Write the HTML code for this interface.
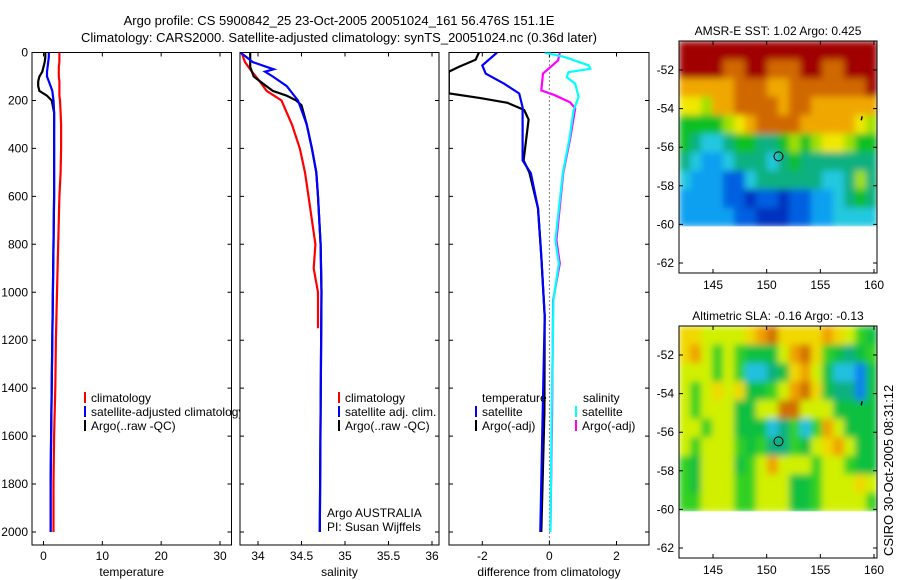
<!DOCTYPE html>
<html><head><meta charset="utf-8"><style>
body{margin:0;background:#fff;}
svg{display:block;font-family:"Liberation Sans",sans-serif;}
text{font-size:12px;fill:#000;}
</style></head><body>
<svg id="fig" width="900" height="580" viewBox="0 0 900 580" xmlns="http://www.w3.org/2000/svg">
<defs>
<filter id="blur" x="0" y="0" width="1" height="1"><feGaussianBlur stdDeviation="3.5" edgeMode="duplicate"/></filter>
</defs>
<text x="339" y="25" text-anchor="middle" style="font-size:13px">Argo profile: CS 5900842_25 23-Oct-2005 20051024_161 56.476S 151.1E</text>
<text x="339" y="42" text-anchor="middle" style="font-size:13px">Climatology: CARS2000. Satellite-adjusted climatology: synTS_20051024.nc (0.36d later)</text>
<g id="g"></g>
<text transform="translate(893,556) rotate(-90)" style="font-size:13px">CSIRO 30-Oct-2005 08:31:12</text>
</svg>
<script>
// ---- data ----
const depths = [0,20,40,60,80,100,120,140,160,180,200,250,300,400,500,600,800,1000,1200,1400,1600,1800,2000];
const tempClim = [2.7,2.7,2.7,2.6,2.6,2.6,2.7,2.7,2.7,2.7,2.8,2.9,3.0,3.0,2.9,2.7,2.5,2.3,2.1,2.0,1.8,1.7,1.7];
const tempSat  = [0.9,0.9,0.8,0.7,0.6,0.6,0.9,1.2,1.5,1.6,1.7,1.8,1.8,1.8,1.8,1.8,1.7,1.6,1.5,1.4,1.3,1.2,1.2];
const tempArgo = [0.3,0.3,0.2,0.0,-0.2,-0.7,-0.9,-0.9,-0.7,0.6,1.4,1.8,1.8,1.8,1.8,1.8,1.7,1.6,1.5,1.4,1.3,1.2,1.2];
const salDepthsClim = [0,40,80,120,160,200,300,400,500,600,800,900,1000,1150];
const salClim = [33.81,33.85,33.93,34.02,34.10,34.27,34.39,34.48,34.54,34.58,34.66,34.64,34.69,34.69];
const salDepthsSat = [0,40,60,70,80,100,140,200,300,400,500,600,800,1000,1500,2000];
const salSat = [33.80,33.94,34.10,34.18,34.08,34.17,34.33,34.46,34.56,34.62,34.67,34.69,34.72,34.73,34.72,34.71];
const salDepthsArgo = [0,60,100,130,160,180,200,220,300,400,500,600,800,1000,1500,2000];
const salArgo = [33.91,33.91,33.95,34.06,34.17,34.33,34.44,34.50,34.56,34.62,34.67,34.69,34.72,34.73,34.72,34.71];
const diffDepthsT = [0,30,60,80,100,170,190,210,240,280,450,500,650,850,1100,1500,2000];
const dTempArgo = [-2.1,-2.2,-2.7,-3.0,-3.0,-3.0,-2.06,-1.25,-0.75,-0.62,-0.77,-0.6,-0.34,-0.24,-0.14,-0.15,-0.24];
const diffDepthsTS = [0,54,88,130,171,228,450,504,650,850,1100,1500,2000];
const dTempSat = [-1.56,-2.0,-1.9,-1.35,-0.9,-0.8,-0.8,-0.55,-0.34,-0.24,-0.14,-0.2,-0.27];
const diffDepthsS = [0,33,88,158,178,208,233,358,504,783,880,1033,1500,2000];
const dSalArgo = [0.31,0.26,-0.19,-0.24,0.16,0.62,0.77,0.62,0.41,0.21,0.31,0.11,0.08,0.03];
const diffDepthsSS = [0,19,54,68,82,103,130,185,241,358,504,783,880,1033,1500,2000];
const dSalSat = [-0.14,0.46,1.17,1.22,0.57,0.52,0.77,0.87,0.72,0.6,0.4,0.18,0.28,0.12,0.07,0.03];
const depthTicks = [0,200,400,600,800,1000,1200,1400,1600,1800,2000];
const tempTicks = [0,10,20,30];
const salTicks = [34,34.5,35,35.5,36];
const diffTicks = [-2,0,2];
const latTicks = [-52,-54,-56,-58,-60,-62];
const lonTicks = [145,150,155,160];
const sstGrid = [
[10,10,10,10,10,10,10,10,10,10,10,10,10,10,10,10,10,10],
[10,10,10,10,9,9,10,10,9,9,9,10,10,9,9,10,10,10],
[8,8,8,8,8,9,9,9,8,8,9,9,9,9,9,9,9,10],
[7,7,6,8,8,9,9,9,9,8,9,9,8,8,8,8,8,8],
[5,5,5,5,6,7,8,9,9,9,9,8,8,8,8,8,7,6],
[5,4,3,3,4,5,5,4,4,5,6,5,6,7,7,6,5,5],
[4,3,2,2,3,4,4,4,3,4,5,4,4,4,4,4,4,4],
[3,2,2,2,1,1,3,4,4,4,4,4,4,3,3,4,6,4],
[2,2,2,2,1,1,0,1,1,0,1,1,2,2,3,4,5,4],
[2,2,2,2,2,1,1,0,0,0,1,1,2,2,3,3,3,3]];
const slaGrid = [
[7,7,6,6,6,6,7,8,9,7,7,7,7,8,7,6,5,4],
[7,8,6,5,6,5,4,4,4,6,8,9,7,5,4,3,4,5],
[6,6,6,5,6,5,2,2,3,4,7,8,6,4,2,2,1,4],
[6,5,6,7,6,7,4,4,5,6,8,9,7,4,3,3,1,4],
[6,5,6,6,6,4,4,6,6,9,9,6,6,6,4,4,4,4],
[6,6,5,6,6,4,4,4,2,3,5,2,5,8,6,4,4,4],
[6,5,6,6,6,5,4,5,3,3,5,4,6,7,8,6,4,4],
[5,4,6,6,6,4,5,6,8,6,6,6,5,6,6,5,4,4],
[5,4,6,6,6,5,5,6,6,6,4,4,5,6,6,6,7,6],
[5,5,6,6,6,5,5,6,6,6,4,4,5,6,6,6,6,5]];
const argoLon = 151.1, argoLat = -56.476;
const palette = ["#0030c0","#0060e0","#10a0f0","#20c8e0","#10b080","#10c020","#a0e000","#f0e800","#f0a800","#d06800","#a00000"];
const slaPalette = ["#0040d0","#1080f0","#20c0e0","#10b080","#10c040","#30d020","#d0f000","#f0d800","#f0a000","#d07000","#a03000"];

// ---- helpers ----
const NS="http://www.w3.org/2000/svg";
const G=document.getElementById('g');
function mk(tag,attrs,parent){const e=document.createElementNS(NS,tag);for(const k in attrs)e.setAttribute(k,attrs[k]);(parent||G).appendChild(e);return e;}
function lin(d0,d1,r0,r1){return v=>r0+(v-d0)*(r1-r0)/(d1-d0);}
const yD = lin(0,2000,52.5,532);
const PB = 545;

function panel(name,x0,x1,xs,ticks,labelText,showY){
  const r=mk('rect',{x:x0,y:52.5,width:x1-x0,height:PB-52.5,fill:'#fff',stroke:'#000','stroke-width':1});
  
  
  for(const d of depthTicks){
    const y=yD(d);
    const t=mk('path',{d:`M${x0},${y}h4M${x1},${y}h-4`,stroke:'#000','stroke-width':1});
    
    
    if(showY){
      const l=mk('text',{x:28,y:y+4,'text-anchor':'end'});l.textContent=d;
      
      
    }
  }
  for(const v of ticks){
    const x=xs(v);
    const t=mk('path',{d:`M${x},${PB}v-4M${x},52.5v4`,stroke:'#000','stroke-width':1});
    
    
    const l=mk('text',{x:x,y:560,'text-anchor':'middle'});l.textContent=v;
    
    
  }
  const xl=mk('text',{x:(x0+x1)/2,y:576,'text-anchor':'middle'});xl.textContent=labelText;
  
  
}
function line(name,xs,vals,ds,color,clipId){
  const pts=vals.map((v,i)=>xs(v).toFixed(1)+','+yD(ds[i]).toFixed(1)).join(' ');
  const p=mk('polyline',{points:pts,fill:'none',stroke:color,'stroke-width':2.2,'clip-path':`url(#${clipId})`});
  
  
}
function clip(id,x0,x1){const c=mk('clipPath',{id:id});mk('rect',{x:x0,y:52.5,width:x1-x0,height:PB-52.5},c);}
function legend(name,x,y,color,label){
  const m=mk('rect',{x:x,y:y-10,width:2,height:11,fill:color});
  
  
  const t=mk('text',{x:x+7,y:y});t.textContent=label;
  
  
}

// Panel 1: temperature
const xT=lin(0,30,43.5,220);
panel('temperature-panel',32,231.5,xT,tempTicks,'temperature',true);
clip('c1',32,231.5);
line('temp-argo-line',xT,tempArgo,depths,'#000','c1');
line('temp-satellite-line',xT,tempSat,depths,'#00f','c1');
line('temp-climatology-line',xT,tempClim,depths,'#f00','c1');
legend('legend-climatology',84,402,'#f00','climatology');
legend('legend-satellite-adjusted',84,416,'#00f','satellite-adjusted climatology');
legend('legend-argo-raw',84,430,'#000','Argo(..raw -QC)');

// Panel 2: salinity
const xS=lin(34,36,258,432);
panel('salinity-panel',240,439,xS,salTicks,'salinity',false);
clip('c2',240,439);
line('sal-climatology-line',xS,salClim,salDepthsClim,'#f00','c2');
line('sal-argo-line',xS,salArgo,salDepthsArgo,'#000','c2');
line('sal-satellite-line',xS,salSat,salDepthsSat,'#00f','c2');
legend('legend-sal-climatology',338,402,'#f00','climatology');
legend('legend-sal-satellite',338,416,'#00f','satellite adj. clim.');
legend('legend-sal-argo',338,430,'#000','Argo(..raw -QC)');
const a1=mk('text',{x:327,y:517});a1.textContent='Argo AUSTRALIA';


const a2=mk('text',{x:327,y:531});a2.textContent='PI: Susan Wijffels';



// Panel 3: difference
const xDf=lin(-2,2,482.3,616.5);
panel('difference-panel',449,649,xDf,diffTicks,'difference from climatology',false);
clip('c3',449,649);
const zl=mk('line',{x1:xDf(0),x2:xDf(0),y1:52.5,y2:PB,stroke:'#000','stroke-width':1,'stroke-dasharray':'1,3'});


line('diff-temp-argo-line',xDf,dTempArgo,diffDepthsT,'#000','c3');
line('diff-temp-satellite-line',xDf,dTempSat,diffDepthsTS,'#00f','c3');
line('diff-sal-argo-line',xDf,dSalArgo,diffDepthsS,'#f0f','c3');
line('diff-sal-satellite-line',xDf,dSalSat,diffDepthsSS,'#0ff','c3');
const lt=mk('text',{x:482,y:402});lt.textContent='temperature';


const ls=mk('text',{x:583,y:402});ls.textContent='salinity';


legend('legend-diff-temp-satellite',475,416,'#00f','satellite');
legend('legend-diff-temp-argo',475,430,'#000','Argo(-adj)');
legend('legend-diff-sal-satellite',575,416,'#0ff','satellite');
legend('legend-diff-sal-argo',575,430,'#f0f','Argo(-adj)');

// Maps
function map(name,top,grid,pal,title){
  const lonX=lin(141.83,160.28,679,877);
  const latY=lin(-52,-62,top+29,top+222);
  const bottom=top+232;
  const latTop=-50.5, latBot=-60.1;
  const nr=grid.length, nc=grid[0].length;
  const cp=mk('clipPath',{id:name+'-clip'});
  mk('rect',{x:679,y:top,width:198,height:latY(latBot)-top},cp);
  const outer=mk('g',{'clip-path':`url(#${name}-clip)`});
  const cg=mk('g',{filter:'url(#blur)'},outer);
  for(let r=0;r<nr;r++)for(let c=0;c<nc;c++){
    const la0=latTop+(latBot-latTop)*r/nr, la1=latTop+(latBot-latTop)*(r+1)/nr;
    const lo0=141.83+(160.28-141.83)*c/nc, lo1=141.83+(160.28-141.83)*(c+1)/nc;
    const cell=mk('rect',{x:lonX(lo0),y:latY(la0),width:lonX(lo1)-lonX(lo0)+0.6,height:latY(la1)-latY(la0)+0.6,fill:pal[grid[r][c]]},cg);
    
    
  }
  const f=mk('rect',{x:679,y:top,width:198,height:bottom-top,fill:'none',stroke:'#000','stroke-width':1});
  
  
  for(const la of latTicks){
    const y=latY(la);
    const t=mk('path',{d:`M679,${y}h4M877,${y}h-4`,stroke:'#000'});
    
    
    const l=mk('text',{x:674,y:y+4,'text-anchor':'end'});l.textContent=la;
    
    
  }
  for(const lo of lonTicks){
    const x=lonX(lo);
    const t=mk('path',{d:`M${x},${bottom}v-4M${x},${top}v4`,stroke:'#000'});
    
    
    const l=mk('text',{x:x,y:bottom+16,'text-anchor':'middle'});l.textContent=lo;
    
    
  }
  const c=mk('circle',{cx:lonX(argoLon),cy:latY(argoLat),r:4.5,fill:'none',stroke:'#000','stroke-width':1});
  
  
  const m=mk('path',{d:`M${lonX(158.9)},${latY(-54.4)}l-1,4`,stroke:'#000','stroke-width':1.5});
  
  
  const tt=mk('text',{x:778,y:top-6,'text-anchor':'middle'});tt.textContent=title;
  
  
}
map('sst-map',41,sstGrid,palette,'AMSR-E SST: 1.02 Argo: 0.425');
map('sla-map',326,slaGrid,slaPalette,'Altimetric SLA: -0.16 Argo: -0.13');
</script>
</body></html>
